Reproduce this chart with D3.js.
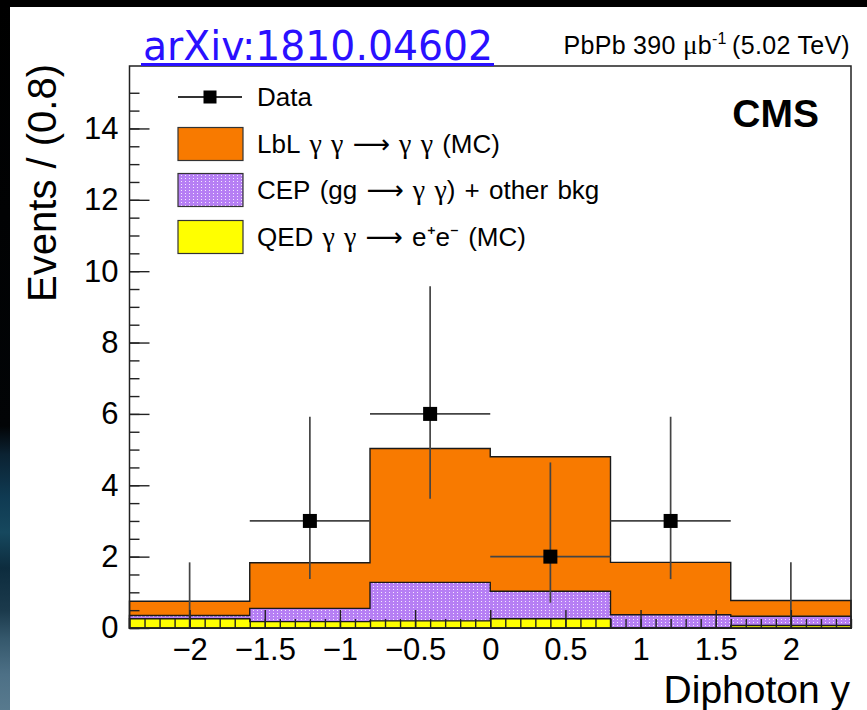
<!DOCTYPE html>
<html>
<head>
<meta charset="utf-8">
<script src="https://cdn.jsdelivr.net/npm/d3@7"></script>
<style>
  html, body { margin: 0; padding: 0; background: #fff; }
  svg { display: block; }
  text { font-family: "Liberation Sans", Arial, Helvetica, sans-serif; }
</style>
</head>
<body>
<svg id="chart" width="867" height="710"></svg>
<script>
// Bin edges of the diphoton rapidity histogram (bin width 0.8)
const binEdges = [-2.4, -1.6, -0.8, 0.0, 0.8, 1.6, 2.4];

// Stacked MC contributions per bin (events / 0.8)
const qedValues = [0.26, 0.18, 0.20, 0.26, 0.00, 0.07];   // QED γγ → e+e−
const cepValues = [0.09, 0.37, 1.08, 0.77, 0.37, 0.26];   // CEP + other bkg
const lblValues = [0.40, 1.28, 3.75, 3.77, 1.47, 0.44];   // LbL γγ → γγ

// Observed data with asymmetric (Poisson) uncertainties
const dataX = [-2.0, -1.2, -0.4, 0.4, 1.2, 2.0];
const dataY = [0, 3, 6, 2, 3, 0];
const dataErrLow = [0, 1.63, 2.38, 1.29, 1.63, 0];
const dataErrHigh = [1.84, 2.92, 3.58, 2.64, 2.92, 1.84];

// Axis ticks
const xTickValues = [-2, -1.5, -1, -0.5, 0, 0.5, 1, 1.5, 2];
const yTickValues = [0, 2, 4, 6, 8, 10, 12, 14];

// Legend entries
const legendLabels = ["Data", "LbL γ γ → γ γ (MC)", "CEP (gg → γ γ) + other bkg", "QED γ γ → e\u207Ae\u207B (MC)"];

const svg = d3.select("#chart");
const W = 867, H = 710;
const frame = { left: 129.5, right: 851, top: 66, bottom: 628 };

const x = d3.scaleLinear().domain([-2.4, 2.4]).range([frame.left, frame.right]);
const y = d3.scaleLinear().domain([0, 15.75]).range([frame.bottom, frame.top]);

// Page background: dark border strips around the white canvas
const defs = svg.append("defs");
const strip = defs.append("linearGradient").attr("id", "stripGrad")
  .attr("x1", 0).attr("y1", 0).attr("x2", 0).attr("y2", 1);
[[0, "#000"], [0.6, "#020406"], [0.64, "#0b2232"], [0.7, "#0f3a52"], [0.75, "#16485e"],
 [0.8, "#0d2c3e"], [0.86, "#1b3a4c"], [0.9, "#35586c"], [0.95, "#4d7086"], [1, "#587a8e"]]
  .forEach(([o, c]) => strip.append("stop").attr("offset", o).attr("stop-color", c));

svg.append("rect").attr("x", 0).attr("y", 0).attr("width", W).attr("height", H).attr("fill", "#fff");
svg.append("rect").attr("x", 0).attr("y", 0).attr("width", W).attr("height", 7).attr("fill", "#000");
svg.append("rect").attr("x", 0).attr("y", 0).attr("width", 10).attr("height", H).attr("fill", "url(#stripGrad)");

// Dotted fill used for the CEP component
const pat = defs.append("pattern").attr("id", "cepPattern")
  .attr("patternUnits", "userSpaceOnUse").attr("width", 4).attr("height", 3);
pat.append("rect").attr("width", 4).attr("height", 3).attr("fill", "#b67ff4");
pat.append("rect").attr("x", 1).attr("y", 1).attr("width", 1).attr("height", 1).attr("fill", "#f4e8ff");

// Cumulative stack heights
const cum1 = qedValues.slice();
const cum2 = cum1.map((v, i) => v + cepValues[i]);
const cum3 = cum2.map((v, i) => v + lblValues[i]);

function stepPoints(heights) {
  const pts = [[binEdges[0], 0]];
  heights.forEach((h, i) => { pts.push([binEdges[i], h]); pts.push([binEdges[i + 1], h]); });
  pts.push([binEdges[binEdges.length - 1], 0]);
  return pts;
}
const stepLine = d3.line().x(d => x(d[0])).y(d => y(d[1]));

const plot = svg.append("g");
const layers = [
  { h: cum3, fill: "#f87a00" },
  { h: cum2, fill: "url(#cepPattern)" },
  { h: cum1, fill: "#ffff00" }
];
layers.forEach(l => {
  plot.append("path").attr("d", stepLine(stepPoints(l.h)) + "Z")
    .attr("fill", l.fill).attr("stroke", "#1a1a1a").attr("stroke-width", 1.4)
    .attr("stroke-linejoin", "miter");
});

// Data points with error bars
const dataG = svg.append("g");
dataY.forEach((v, i) => {
  const cx = x(dataX[i]);
  dataG.append("line").attr("x1", cx).attr("x2", cx)
    .attr("y1", y(v - dataErrLow[i])).attr("y2", y(v + dataErrHigh[i]))
    .attr("stroke", "#444").attr("stroke-width", 1.7);
  if (v > 0) {
    dataG.append("line").attr("x1", x(binEdges[i])).attr("x2", x(binEdges[i + 1]))
      .attr("y1", y(v)).attr("y2", y(v)).attr("stroke", "#444").attr("stroke-width", 1.7);
    dataG.append("rect").attr("x", cx - 7).attr("y", y(v) - 7).attr("width", 14).attr("height", 14).attr("fill", "#000");
  }
});

// Axes: ticks point into the frame
const axisColor = "#222";
const xMajor = d3.axisBottom(x).tickValues(xTickValues).tickSize(-18).tickPadding(10)
  .tickFormat(d3.format(""));
const xMinor = d3.axisBottom(x).tickValues(d3.range(-24, 25, 1).map(v => v / 10)).tickSize(-9).tickFormat("");
const yMajor = d3.axisLeft(y).tickValues(yTickValues).tickSize(-20).tickPadding(11);
const yMinor = d3.axisLeft(y).tickValues(d3.range(0, 31, 1).map(v => v / 2)).tickSize(-10).tickFormat("");

function styleAxis(g) {
  g.select(".domain").remove();
  g.selectAll(".tick line").attr("stroke", axisColor).attr("stroke-width", 1.4);
  g.selectAll(".tick text").attr("fill", "#000").style("font-size", "31px")
    .style("font-family", "'Liberation Sans', Arial, sans-serif");
}
svg.append("g").attr("transform", `translate(0,${frame.bottom})`).call(xMinor).call(styleAxis);
svg.append("g").attr("transform", `translate(0,${frame.bottom})`).call(xMajor).call(styleAxis);
svg.append("g").attr("transform", `translate(${frame.left},0)`).call(yMinor).call(styleAxis);
svg.append("g").attr("transform", `translate(${frame.left},0)`).call(yMajor).call(styleAxis);

// Frame
svg.append("rect").attr("x", frame.left).attr("y", frame.top)
  .attr("width", frame.right - frame.left).attr("height", frame.bottom - frame.top)
  .attr("fill", "none").attr("stroke", axisColor).attr("stroke-width", 1.5);

// Axis titles
svg.append("text").attr("x", 850).attr("y", 703).attr("text-anchor", "end")
  .style("font-size", "39px").text("Diphoton y");
svg.append("text").attr("transform", "translate(56,64) rotate(-90)").attr("text-anchor", "end")
  .style("font-size", "40px").text("Events / (0.8)");

// Header texts
svg.append("text").attr("x", 143).attr("y", 60)
  .style("font-family", "'DejaVu Sans Condensed', 'DejaVu Sans', sans-serif")
  .style("font-stretch", "condensed")
  .style("font-size", "40px").attr("fill", "#2a10ff")
  .attr("textLength", 350).attr("lengthAdjust", "spacingAndGlyphs")
  .text("arXiv:1810.04602");
svg.append("rect").attr("x", 141).attr("y", 63).attr("width", 353).attr("height", 3).attr("fill", "#2a10ff");

const lumi = svg.append("text").attr("x", 850).attr("y", 54).attr("text-anchor", "end")
  .style("font-size", "25px").style("letter-spacing", "0.3px");
lumi.append("tspan").text("PbPb 390 ");
lumi.append("tspan").style("font-family", "'Liberation Serif', serif").style("font-size", "27px").text("μ");
lumi.append("tspan").text("b");
lumi.append("tspan").attr("dy", -10).style("font-size", "16px").text("-1");
lumi.append("tspan").attr("dy", 10).text("\u2009(5.02 TeV)");

svg.append("text").attr("x", 819).attr("y", 127).attr("text-anchor", "end")
  .style("font-size", "39px").style("font-weight", "bold").text("CMS");

// Legend
const leg = svg.append("g");
const legX0 = 178, legX1 = 243, textX = 257;
const rowY = [97, 144, 190, 237];
leg.append("line").attr("x1", legX0).attr("x2", legX1 - 1).attr("y1", rowY[0]).attr("y2", rowY[0])
  .attr("stroke", "#333").attr("stroke-width", 1.8);
leg.append("rect").attr("x", 210 - 6.5).attr("y", rowY[0] - 6.5).attr("width", 13).attr("height", 13).attr("fill", "#000");
const legFills = ["#f87a00", "url(#cepPattern)", "#ffff00"];
legFills.forEach((f, i) => {
  leg.append("rect").attr("x", legX0).attr("y", rowY[i + 1] - 16.5).attr("width", legX1 - legX0).attr("height", 33)
    .attr("fill", f).attr("stroke", "#333").attr("stroke-width", 1.2);
});
// Greek letters in a serif face, arrows drawn long and thin; spaces widened
legendLabels.forEach((t, i) => {
  const txt = leg.append("text").attr("x", textX).attr("y", rowY[i]).attr("dy", "0.36em")
    .style("font-size", "26px");
  t.split(/(γ|→| )/).filter(s => s.length).forEach(seg => {
    const sp = txt.append("tspan").text(seg);
    if (seg === " " && i > 0) sp.style("font-size", "33px");
    if (seg === "γ") sp.style("font-family", "'Liberation Serif', serif").style("font-size", "28px");
    if (seg === "→") sp.style("font-family", "'DejaVu Sans', sans-serif").style("font-size", "26px").text("\u27F6");
  });
});
</script>
</body>
</html>
